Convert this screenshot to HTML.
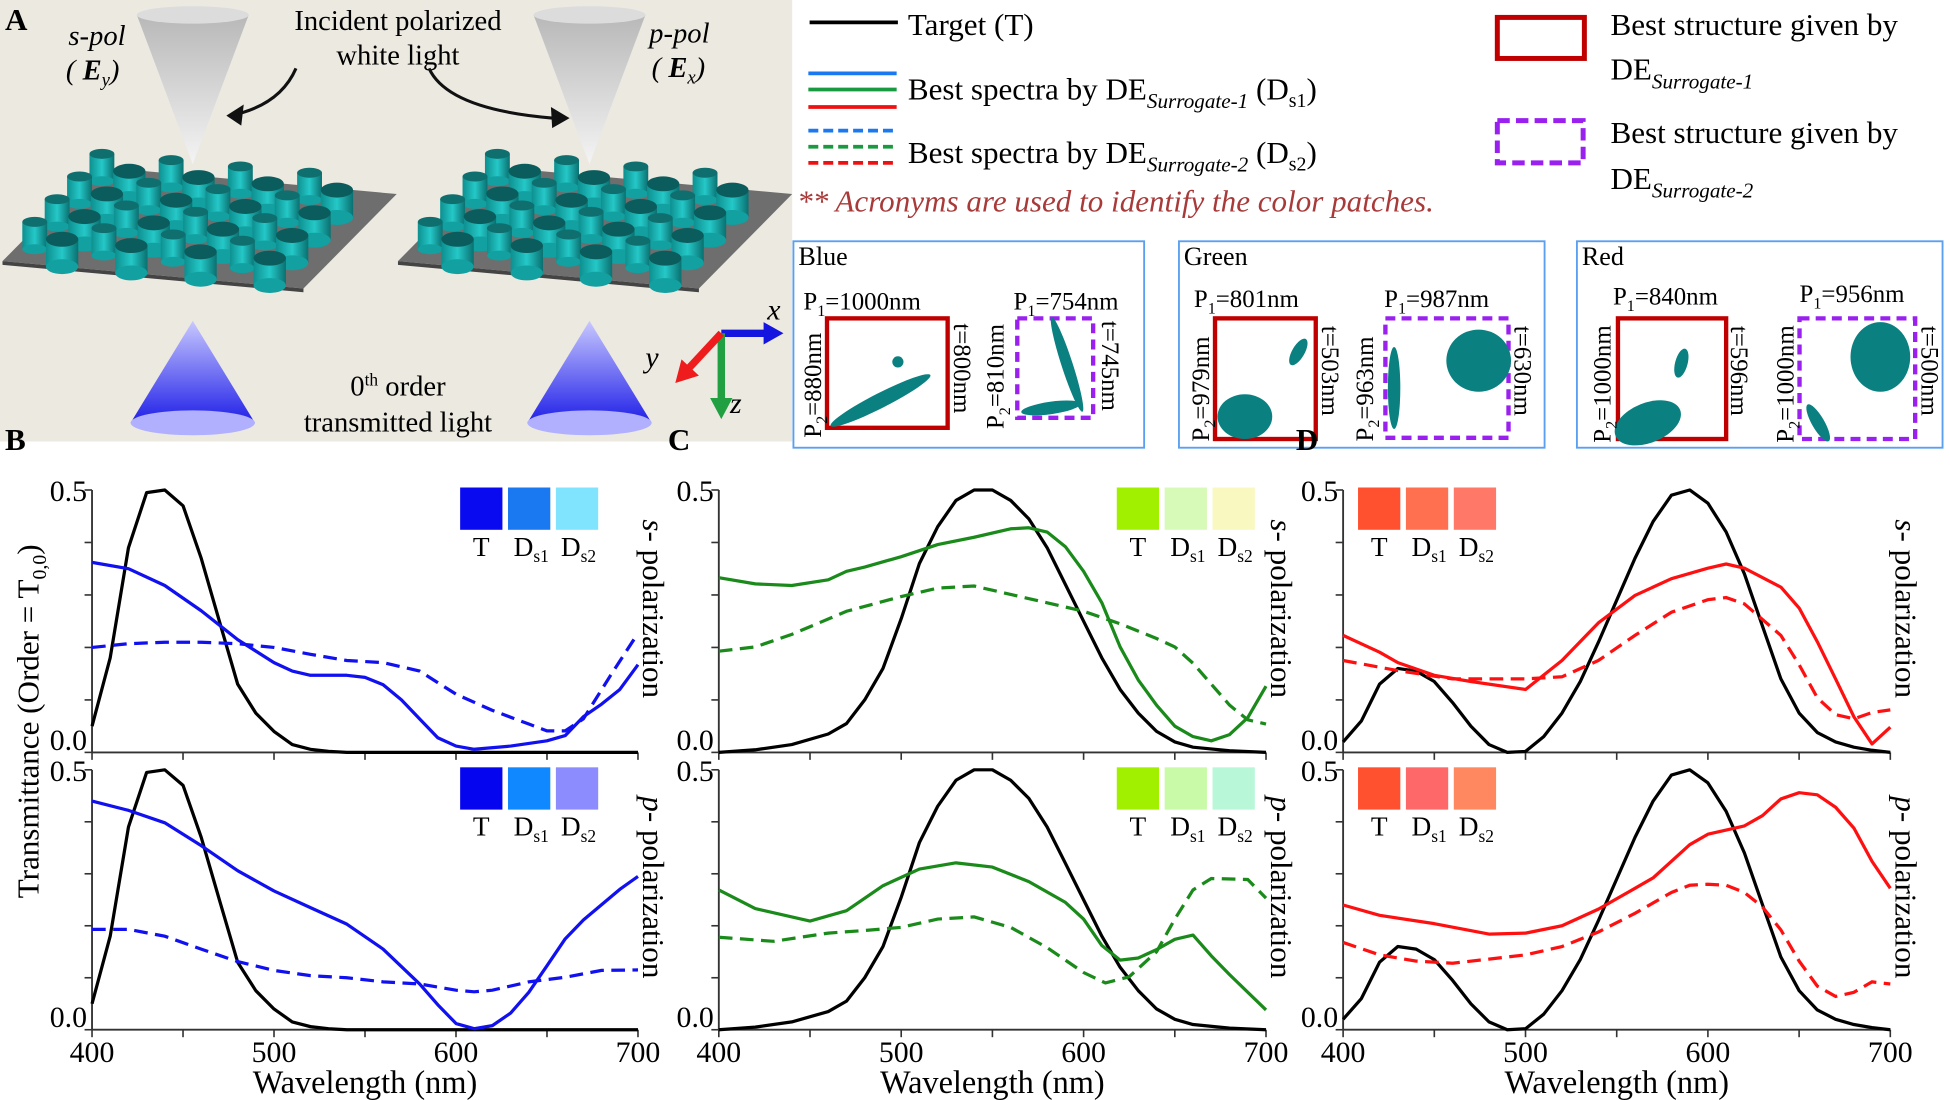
<!DOCTYPE html>
<html><head><meta charset="utf-8">
<style>
html,body{margin:0;padding:0;background:#fff;}
svg{display:block;font-family:"Times New Roman","Liberation Serif","DejaVu Serif",serif !important;}
svg text{font-family:"Times New Roman","Liberation Serif","DejaVu Serif",serif !important;fill:#000;}
</style></head>
<body>
<svg id="s" width="1950" height="1100" viewBox="0 0 1568 884.5" preserveAspectRatio="none" xmlns="http://www.w3.org/2000/svg" font-family="Times New Roman, Liberation Serif, DejaVu Serif, serif">
<defs>
<linearGradient id="gc" x1="0" y1="0" x2="0" y2="1"><stop offset="0" stop-color="#b8b8b8"/><stop offset="1" stop-color="#f4f4f4"/></linearGradient>
<linearGradient id="gb" x1="0" y1="0" x2="0" y2="1"><stop offset="0" stop-color="#c8c8ff"/><stop offset="1" stop-color="#2020e8"/></linearGradient>
<linearGradient id="gt" x1="0" x2="1"><stop offset="0" stop-color="#0d8f8f"/><stop offset="0.5" stop-color="#25c8c8"/><stop offset="1" stop-color="#0a7070"/></linearGradient>
</defs>
<rect x="0" y="0" width="637" height="355" fill="#ece9e1"/>
<g id="A"></g>
<text x="4" y="24" font-size="25" font-weight="bold">A</text>
<text x="55" y="36" font-size="23" font-style="italic">s-pol</text>
<text x="53" y="64" font-size="23" font-style="italic">( <tspan font-weight="bold">E</tspan><tspan font-size="15" dy="5">y</tspan><tspan dy="-5">)</tspan></text>
<text x="320" y="24" font-size="23" text-anchor="middle">Incident polarized</text>
<text x="320" y="52" font-size="23" text-anchor="middle">white light</text>
<text x="522" y="34" font-size="23" font-style="italic">p-pol</text>
<text x="524" y="62" font-size="23" font-style="italic">( <tspan font-weight="bold">E</tspan><tspan font-size="15" dy="5">x</tspan><tspan dy="-5">)</tspan></text>
<path d="M238,55 Q225,85 185,93" fill="none" stroke="#111" stroke-width="2.5"/>
<polygon points="182,93 196,84 194,101" fill="#111"/>
<path d="M345,55 Q360,88 445,95" fill="none" stroke="#111" stroke-width="2.5"/>
<polygon points="458,95 443,86 444,103" fill="#111"/>
<text x="320" y="318" font-size="23" text-anchor="middle">0<tspan font-size="14" dy="-8">th</tspan><tspan dy="8"> order</tspan></text>
<text x="320" y="347" font-size="23" text-anchor="middle">transmitted light</text>
<line x1="580" y1="268" x2="618" y2="268" stroke="#1515e0" stroke-width="6"/><polygon points="630,268 614,259 614,277" fill="#1515e0"/>
<line x1="580" y1="268" x2="580" y2="322" stroke="#20a040" stroke-width="6"/><polygon points="580,337 571,320 589,320" fill="#20a040"/>
<line x1="580" y1="268" x2="553" y2="297" stroke="#ee1c1c" stroke-width="6"/><polygon points="543,308 548,289 562,302" fill="#ee1c1c"/>
<text x="617" y="257" font-size="24" font-style="italic">x</text>
<text x="519" y="295" font-size="24" font-style="italic">y</text>
<text x="587" y="332" font-size="24" font-style="italic">z</text>

<line x1="651" y1="18" x2="722" y2="18" stroke="#000" stroke-width="3"/>
<text x="730" y="28" font-size="25">Target   (T)</text>
<line x1="650" y1="59" x2="721" y2="59" stroke="#1a78f0" stroke-width="3"/>
<line x1="650" y1="72" x2="721" y2="72" stroke="#1a9a40" stroke-width="3"/>
<line x1="650" y1="86" x2="721" y2="86" stroke="#ee1111" stroke-width="3"/>
<text x="730" y="80" font-size="25">Best spectra by DE<tspan font-size="17" font-style="italic" dy="7">Surrogate-1</tspan><tspan dy="-7">   (D</tspan><tspan font-size="16" dy="6">s1</tspan><tspan dy="-6">)</tspan></text>
<line x1="650" y1="105" x2="721" y2="105" stroke="#1a78f0" stroke-width="3" stroke-dasharray="8,4"/>
<line x1="650" y1="118" x2="721" y2="118" stroke="#1a9a40" stroke-width="3" stroke-dasharray="8,4"/>
<line x1="650" y1="131" x2="721" y2="131" stroke="#ee1111" stroke-width="3" stroke-dasharray="8,4"/>
<text x="730" y="131" font-size="25">Best spectra by DE<tspan font-size="17" font-style="italic" dy="7">Surrogate-2</tspan><tspan dy="-7">   (D</tspan><tspan font-size="16" dy="6">s2</tspan><tspan dy="-6">)</tspan></text>
<text x="641" y="170" font-size="25" font-style="italic" style="fill:#a83a3a">** Acronyms are used to identify the color patches.</text>
<rect x="1204" y="14" width="70" height="33" fill="none" stroke="#c00000" stroke-width="4"/>
<text x="1295" y="28" font-size="25">Best structure given by</text>
<text x="1295" y="64" font-size="25">DE<tspan font-size="17" font-style="italic" dy="7">Surrogate-1</tspan></text>
<rect x="1204" y="97" width="69" height="34" fill="none" stroke="#9a20f0" stroke-width="4" stroke-dasharray="10,5"/>
<text x="1295" y="115" font-size="25">Best structure given by</text>
<text x="1295" y="152" font-size="25">DE<tspan font-size="17" font-style="italic" dy="7">Surrogate-2</tspan></text>

<g font-size="20">
<rect x="638" y="194" width="282" height="166" fill="#fff" stroke="#5aa0f0" stroke-width="1.5"/>
<text x="642" y="213" font-size="21">Blue</text>
<rect x="665" y="256" width="97" height="88" fill="#fff" stroke="#c00000" stroke-width="3.5"/>
<circle cx="722" cy="291" r="4.5" fill="#0a8080"/>
<ellipse cx="708" cy="322" rx="45" ry="6" transform="rotate(-27 708 322)" fill="#0a8080"/>
<rect x="818" y="256" width="61" height="80" fill="#fff" stroke="#9a20f0" stroke-width="3.5" stroke-dasharray="8,5"/>
<ellipse cx="858" cy="293" rx="40" ry="4.5" transform="rotate(72 858 293)" fill="#0a8080"/>
<ellipse cx="845" cy="328" rx="24" ry="5" transform="rotate(-8 845 328)" fill="#0a8080"/>
<text x="646" y="249">P<tspan font-size="13" dy="5">1</tspan><tspan dy="-5">=1000nm</tspan></text>
<text x="815" y="249">P<tspan font-size="13" dy="5">1</tspan><tspan dy="-5">=754nm</tspan></text>
<text transform="translate(660,352) rotate(-90)">P<tspan font-size="13" dy="5">2</tspan><tspan dy="-5">=880nm</tspan></text>
<text transform="translate(807,345) rotate(-90)">P<tspan font-size="13" dy="5">2</tspan><tspan dy="-5">=810nm</tspan></text>
<text transform="translate(767,260) rotate(90)">t=800nm</text>
<text transform="translate(886,258) rotate(90)">t=745nm</text>

<rect x="948" y="194" width="294" height="166" fill="#fff" stroke="#5aa0f0" stroke-width="1.5"/>
<text x="952" y="213" font-size="21">Green</text>
<rect x="977" y="256" width="81" height="97" fill="#fff" stroke="#c00000" stroke-width="3.5"/>
<ellipse cx="1001" cy="335" rx="22" ry="18" fill="#0a8080"/>
<ellipse cx="1044" cy="283" rx="12" ry="5" transform="rotate(-60 1044 283)" fill="#0a8080"/>
<rect x="1114" y="256" width="99" height="96" fill="#fff" stroke="#9a20f0" stroke-width="3.5" stroke-dasharray="8,5"/>
<ellipse cx="1189" cy="290" rx="26" ry="25" fill="#0a8080"/>
<ellipse cx="1121" cy="312" rx="5" ry="33" fill="#0a8080"/>
<text x="960" y="247">P<tspan font-size="13" dy="5">1</tspan><tspan dy="-5">=801nm</tspan></text>
<text x="1113" y="247">P<tspan font-size="13" dy="5">1</tspan><tspan dy="-5">=987nm</tspan></text>
<text transform="translate(972,355) rotate(-90)">P<tspan font-size="13" dy="5">2</tspan><tspan dy="-5">=979nm</tspan></text>
<text transform="translate(1104,355) rotate(-90)">P<tspan font-size="13" dy="5">2</tspan><tspan dy="-5">=963nm</tspan></text>
<text transform="translate(1063,262) rotate(90)">t=503nm</text>
<text transform="translate(1218,262) rotate(90)">t=630nm</text>

<rect x="1268" y="194" width="294" height="166" fill="#fff" stroke="#5aa0f0" stroke-width="1.5"/>
<text x="1272" y="213" font-size="21">Red</text>
<rect x="1301" y="256" width="87" height="97" fill="#fff" stroke="#c00000" stroke-width="3.5"/>
<ellipse cx="1325" cy="340" rx="28" ry="16" transform="rotate(-22 1325 340)" fill="#0a8080"/>
<ellipse cx="1352" cy="292" rx="5" ry="12" transform="rotate(15 1352 292)" fill="#0a8080"/>
<rect x="1447" y="256" width="93" height="97" fill="#fff" stroke="#9a20f0" stroke-width="3.5" stroke-dasharray="8,5"/>
<ellipse cx="1512" cy="287" rx="24" ry="28" fill="#0a8080"/>
<ellipse cx="1462" cy="340" rx="5" ry="17" transform="rotate(-30 1462 340)" fill="#0a8080"/>
<text x="1297" y="245">P<tspan font-size="13" dy="5">1</tspan><tspan dy="-5">=840nm</tspan></text>
<text x="1447" y="243">P<tspan font-size="13" dy="5">1</tspan><tspan dy="-5">=956nm</tspan></text>
<text transform="translate(1295,356) rotate(-90)">P<tspan font-size="13" dy="5">2</tspan><tspan dy="-5">=1000nm</tspan></text>
<text transform="translate(1442,356) rotate(-90)">P<tspan font-size="13" dy="5">2</tspan><tspan dy="-5">=1000nm</tspan></text>
<text transform="translate(1392,262) rotate(90)">t=596nm</text>
<text transform="translate(1545,262) rotate(90)">t=500nm</text>
</g>

<text x="4" y="362" font-size="25" font-weight="bold">B</text>
<text x="537" y="362" font-size="25" font-weight="bold">C</text>
<text x="1042" y="362" font-size="25" font-weight="bold">D</text>

<text transform="translate(31,580) rotate(-90)" font-size="25" text-anchor="middle">Transmittance (Order = T<tspan font-size="16" dy="6">0,0</tspan><tspan dy="-6">)</tspan></text>

<g id="plots"></g>
</svg>
<script>
var NS="http://www.w3.org/2000/svg";
function el(tag,attrs,parent,txt){var e=document.createElementNS(NS,tag);for(var k in attrs)e.setAttribute(k,attrs[k]);if(txt!==undefined)e.textContent=txt;(parent||document.getElementById('plots')).appendChild(e);return e;}
var A=document.getElementById('A');
[155,474].forEach(function(cx){
  el('polygon',{points:(cx-45)+',12 '+(cx+45)+',12 '+cx+',132',fill:'url(#gc)'},A);
  el('ellipse',{cx:cx,cy:12,rx:45,ry:7,fill:'#dcdcdc'},A);
  el('polygon',{points:cx+',258 '+(cx-50)+',340 '+(cx+50)+',340',fill:'url(#gb)'},A);
  el('ellipse',{cx:cx,cy:340,rx:50,ry:10,fill:'#b0b0ff'},A);
});
function plate(ox){
  var L=[ox+2,210],F=[ox+244,232],R=[ox+319,156],B=[ox+77,134];
  el('polygon',{points:[L,F,R,B].map(function(p){return p.join(',')}).join(' '),fill:'#6e6e6e'},A);
  el('polygon',{points:[L,F,[F[0],F[1]+3],[L[0],L[1]+3]].map(function(p){return p.join(',')}).join(' '),fill:'#444'},A);
  var fv=[F[0]-L[0],F[1]-L[1]],dv=[B[0]-L[0],B[1]-L[1]];
  for(var j=3;j>=0;j--){for(var i=0;i<4;i++){
    var u=0.07+i*0.23,v=0.12+j*0.24;
    var x=L[0]+u*fv[0]+v*dv[0],y=L[1]+u*fv[1]+v*dv[1];
    el('rect',{x:x-10,y:y-24,width:20,height:22,fill:'url(#gt)'},A);
    el('ellipse',{cx:x,cy:y-2,rx:10,ry:4,fill:'#12a0a0'},A);
    el('ellipse',{cx:x,cy:y-24,rx:10,ry:4,fill:'#0f6e6e'},A);
    var x2=x+22,y2=y+14;
    el('rect',{x:x2-13,y:y2-24,width:26,height:22,fill:'url(#gt)'},A);
    el('ellipse',{cx:x2,cy:y2-2,rx:13,ry:6,fill:'#12a0a0'},A);
    el('ellipse',{cx:x2,cy:y2-24,rx:13,ry:6,fill:'#0b5c5c'},A);
  }}
}
plate(0);plate(318);
var Bblack=[[400,.05],[410,.18],[420,.39],[430,.495],[440,.5],[450,.47],[460,.37],[470,.25],[480,.13],[490,.075],[500,.04],[510,.015],[520,.006],[530,.002],[540,0],[700,0]];
var Cblack=[[400,0],[420,.005],[440,.015],[460,.035],[470,.055],[480,.1],[490,.16],[500,.255],[510,.36],[520,.43],[530,.48],[540,.5],[550,.5],[560,.48],[570,.445],[580,.39],[590,.32],[600,.25],[610,.18],[620,.12],[630,.075],[640,.04],[650,.02],[660,.01],[680,.003],[700,0]];
var Dblack=[[400,.02],[410,.06],[420,.13],[430,.16],[440,.155],[450,.135],[460,.095],[470,.05],[480,.015],[490,0],[500,.002],[510,.03],[520,.075],[530,.135],[540,.21],[550,.29],[560,.37],[570,.44],[580,.49],[590,.5],[600,.475],[610,.42],[620,.34],[630,.24],[640,.14],[650,.075],[660,.038],[670,.02],[680,.01],[690,.004],[700,0]];
var P=[
 {x0:74,x1:513,y5:394,y0:605,xlab:false,col:'#1010f0',blk:Bblack,sw:[370,'#0a0af0','#1a78f0','#80e4ff'],right:'s',
  s:[[400,.362],[420,.35],[440,.318],[460,.27],[480,.215],[500,.171],[510,.155],[520,.147],[540,.147],[550,.143],[560,.129],[570,.1],[580,.064],[590,.028],[600,.012],[610,.006],[630,.012],[650,.022],[660,.032],[670,.068],[680,.092],[690,.12],[700,.167]],
  d:[[400,.2],[420,.207],[440,.21],[460,.21],[480,.207],[500,.2],[520,.187],[540,.175],[560,.171],[580,.155],[600,.111],[620,.08],[640,.054],[650,.041],[660,.041],[670,.064],[685,.147],[700,.227]]},
 {x0:74,x1:513,y5:619,y0:828,xlab:true,col:'#1010f0',blk:Bblack,sw:[370,'#0505f0','#1088ff','#8c8cff'],right:'p',
  s:[[400,.44],[420,.422],[440,.398],[460,.354],[480,.306],[500,.267],[520,.235],[540,.203],[560,.155],[580,.088],[590,.048],[600,.012],[610,.002],[620,.008],[630,.032],[640,.072],[650,.123],[660,.175],[670,.211],[690,.27],[700,.295]],
  d:[[400,.193],[420,.193],[440,.18],[460,.155],[480,.131],[500,.114],[520,.104],[540,.1],[560,.092],[580,.088],[600,.076],[610,.073],[620,.076],[640,.092],[660,.101],[680,.114],[700,.115]]},
 {x0:578,x1:1018,y5:394,y0:605,xlab:false,col:'#1a8a1a',blk:Cblack,sw:[898,'#a0f000','#d8fab8','#f8f8c0'],right:'s',
  s:[[400,.333],[420,.321],[440,.318],[460,.329],[470,.345],[480,.353],[500,.373],[520,.396],[540,.41],[560,.426],[570,.428],[580,.42],[590,.392],[600,.345],[610,.285],[620,.201],[630,.138],[640,.09],[650,.05],[660,.03],[670,.022],[680,.034],[690,.066],[700,.126]],
  d:[[400,.193],[420,.201],[440,.225],[470,.269],[500,.297],[520,.313],[540,.317],[560,.301],[580,.285],[600,.269],[620,.245],[640,.217],[650,.201],[660,.17],[670,.13],[680,.09],[690,.062],[700,.054]]},
 {x0:578,x1:1018,y5:619,y0:828,xlab:true,col:'#1a8a1a',blk:Cblack,sw:[898,'#a0f000','#c8faa8','#b8f8d8'],right:'p',
  s:[[400,.269],[420,.233],[450,.209],[470,.229],[490,.277],[510,.309],[530,.321],[550,.313],[570,.285],[590,.245],[600,.213],[610,.162],[620,.134],[630,.138],[640,.154],[650,.174],[660,.182],[670,.142],[680,.106],[700,.038]],
  d:[[400,.178],[430,.17],[460,.186],[480,.191],[500,.197],[520,.213],[540,.217],[560,.197],[580,.158],[600,.11],[612,.09],[625,.102],[640,.15],[650,.213],[660,.269],[670,.291],[690,.289],[700,.253]]},
 {x0:1080,x1:1520,y5:394,y0:605,xlab:false,col:'#ff1010',blk:Dblack,sw:[1092,'#ff5030','#ff7050','#ff7868'],right:'s',
  s:[[400,.223],[420,.191],[430,.171],[450,.147],[470,.135],[500,.12],[520,.175],[540,.247],[560,.299],[580,.331],[600,.351],[610,.359],[620,.351],[640,.315],[650,.275],[660,.211],[670,.14],[680,.068],[690,.016],[700,.048]],
  d:[[400,.175],[430,.156],[460,.14],[500,.14],[520,.144],[540,.175],[560,.223],[580,.267],[600,.291],[610,.295],[620,.283],[640,.223],[650,.167],[660,.104],[670,.072],[680,.064],[690,.076],[700,.081]]},
 {x0:1080,x1:1520,y5:619,y0:828,xlab:true,col:'#ff1010',blk:Dblack,sw:[1092,'#ff5030','#ff6868','#ff8860'],right:'p',
  s:[[400,.24],[420,.22],[450,.204],[480,.184],[500,.186],[520,.2],[540,.232],[560,.272],[570,.292],[580,.324],[590,.356],[600,.376],[620,.392],[630,.412],[640,.444],[650,.456],[660,.452],[670,.428],[680,.388],[690,.324],[700,.272]],
  d:[[400,.168],[420,.144],[440,.132],[460,.128],[480,.136],[500,.144],[520,.16],[540,.188],[560,.224],[580,.264],[590,.278],[600,.28],[610,.278],[620,.264],[630,.236],[640,.192],[650,.132],[660,.084],[670,.064],[680,.072],[690,.092],[700,.088]]}
];
P.forEach(function(p){
  var X=function(n){return p.x0+(n-400)/300*(p.x1-p.x0)},Y=function(v){return p.y0-v/0.5*(p.y0-p.y5)};
  var pts=function(a){return a.map(function(q){return X(q[0]).toFixed(1)+','+Y(q[1]).toFixed(1)}).join(' ')};
  el('line',{x1:p.x0,y1:p.y5,x2:p.x0,y2:p.y0,stroke:'#333','stroke-width':1.5});
  el('line',{x1:p.x0,y1:p.y0,x2:p.x1,y2:p.y0,stroke:'#333','stroke-width':1.5});
  for(var v=0;v<=0.5001;v+=0.1)el('line',{x1:p.x0-6,y1:Y(v),x2:p.x0,y2:Y(v),stroke:'#333','stroke-width':1.3});
  for(var n=400;n<=700;n+=50)el('line',{x1:X(n),y1:p.y0,x2:X(n),y2:p.y0+6,stroke:'#333','stroke-width':1.3});
  el('text',{x:p.x0-4,y:Y(0.5)+9,'text-anchor':'end','font-size':24},undefined,'0.5');
  el('text',{x:p.x0-4,y:Y(0)-2,'text-anchor':'end','font-size':24},undefined,'0.0');
  if(p.xlab){[400,500,600,700].forEach(function(n){el('text',{x:X(n),y:p.y0+26,'text-anchor':'middle','font-size':24},undefined,String(n));});
    el('text',{x:(p.x0+p.x1)/2,y:p.y0+51,'text-anchor':'middle','font-size':26},undefined,'Wavelength (nm)');}
  el('polyline',{points:pts(p.blk),fill:'none',stroke:'#000','stroke-width':2.6,'stroke-linejoin':'round'});
  el('polyline',{points:pts(p.d),fill:'none',stroke:p.col,'stroke-width':2.6,'stroke-dasharray':'11,6'});
  el('polyline',{points:pts(p.s),fill:'none',stroke:p.col,'stroke-width':2.6,'stroke-linejoin':'round'});
  var sx=p.sw[0],sy=p.y5-2;
  [0,1,2].forEach(function(k){el('rect',{x:sx+k*38.5,y:sy,width:34,height:34,fill:p.sw[k+1]});});
  el('text',{x:sx+17,y:sy+55,'text-anchor':'middle','font-size':22},undefined,'T');
  var t1=el('text',{x:sx+43,y:sy+55,'font-size':22},undefined,'D');el('tspan',{'font-size':14,dy:5},t1,'s1');
  var t2=el('text',{x:sx+81,y:sy+55,'font-size':22},undefined,'D');el('tspan',{'font-size':14,dy:5},t2,'s2');
  var rx=p.x1+4, cy=(p.y5+p.y0)/2-10;
  var t=el('text',{transform:'translate('+rx+','+cy+') rotate(90)','text-anchor':'middle','font-size':25});
  el('tspan',{'font-style':'italic'},t,p.right);el('tspan',{},t,'- polarization');
});
</script>
</body></html>
